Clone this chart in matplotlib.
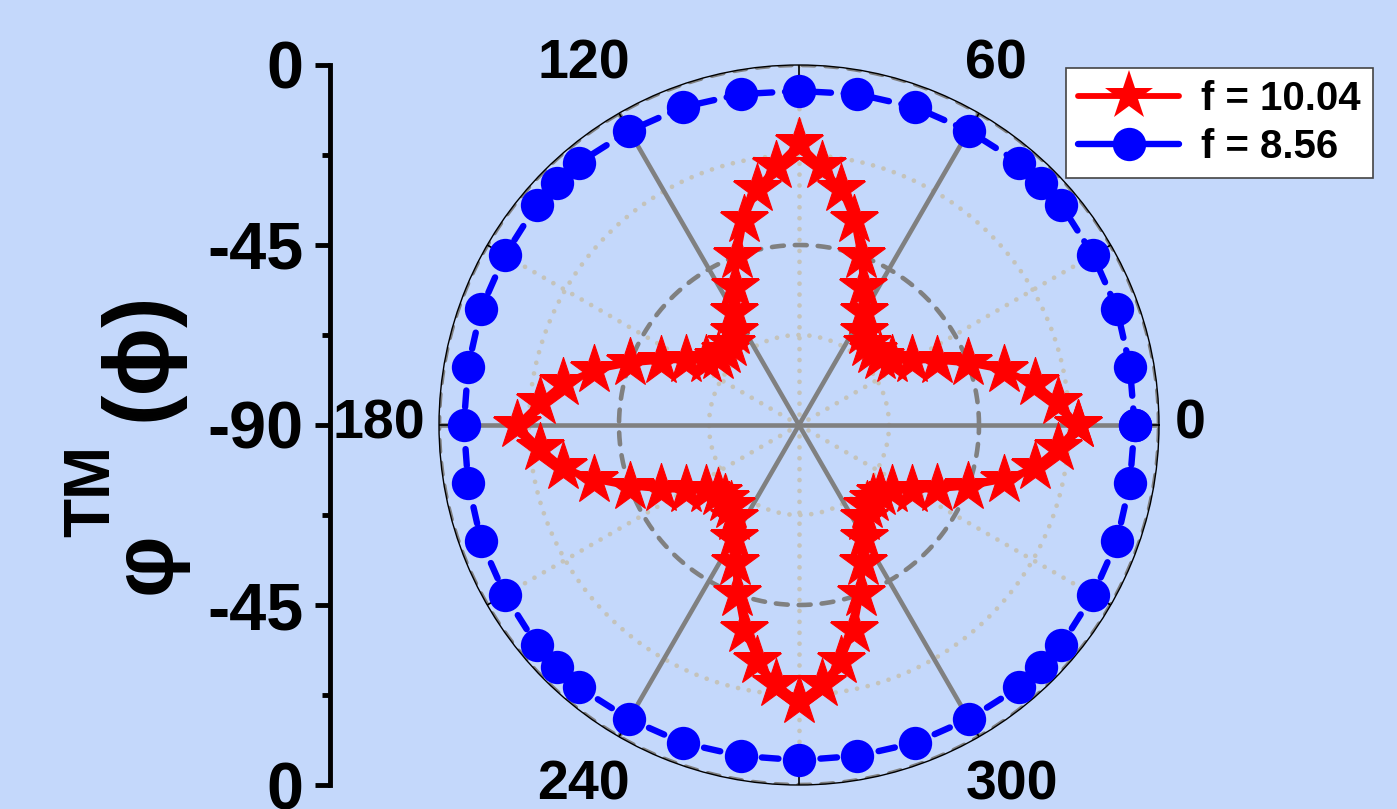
import numpy as np
import matplotlib
matplotlib.use("Agg")
import matplotlib.pyplot as plt
from matplotlib.lines import Line2D

plt.rcParams['font.family'] = ['Liberation Sans', 'DejaVu Sans']
plt.rcParams['font.weight'] = 'bold'

# Angle (deg) and phase values for the two frequencies
theta_red = np.arange(0, 361, 5)
phase_red = [-20.2, -25, -30, -37, -45, -52, -57.5, -61.5, -63.5, -64,
             -63.5, -61.5, -57.5, -52, -45, -37, -30, -25,
             -19.5, -25, -30, -37, -45, -52, -57.5, -61.5, -63.5, -64,
             -63.5, -61.5, -57.5, -52, -45, -37, -30, -25,
             -19.5, -25, -30, -37, -45, -52, -57.5, -61.5, -63.5, -64,
             -63.5, -61.5, -57.5, -52, -45, -37, -30, -25,
             -21, -25, -30, -37, -45, -52, -57.5, -61.5, -63.5, -64,
             -63.5, -61.5, -57.5, -52, -45, -37, -30, -25,
             -20.2]

theta_blue = [0, 10, 20, 30, 40, 45, 50, 60, 70, 80,
              90, 100, 110, 120, 130, 135, 140, 150, 160, 170,
              180, 190, 200, 210, 220, 225, 230, 240, 250, 260,
              270, 280, 290, 300, 310, 315, 320, 330, 340, 350, 360]
phase_blue = [-6.1, -6.0, -5.4, -5.1, -4.4, -4.3, -4.4, -5.1, -5.4, -6.0,
              -6.5, -6.0, -5.4, -5.1, -4.4, -4.3, -4.4, -5.1, -5.4, -6.0,
              -6.2, -6.0, -5.4, -5.1, -4.4, -4.3, -4.4, -5.1, -5.4, -6.0,
              -6.2, -6.0, -5.4, -5.1, -4.4, -4.3, -4.4, -5.1, -5.4, -6.0,
              -6.1]

labels = ['f = 10.04', 'f = 8.56']
angle_ticks = [0, 60, 120, 180, 240, 300]
radial_ticks = [90, 45, 0, -45, -90]
radial_labels = ['0', '-45', '-90', '-45', '0']

bg = '#c4d8fb'
W, H = 1397, 809
fig = plt.figure(figsize=(W / 100, H / 100), dpi=100, facecolor=bg)

# polar panel: centre (799, 425) px, radius 360 px
cx, cy, R = 799, 425, 360
ax = fig.add_axes([(cx - R) / W, (H - cy - R) / H, 2 * R / W, 2 * R / H],
                  projection='polar')
ax.set_facecolor('none')
ax.set_ylim(-90, 0)
ax.set_xticks([])
ax.set_yticks([])
ax.grid(False)
ax.spines['polar'].set_color('black')
ax.spines['polar'].set_linewidth(1.0)

circ = np.linspace(0, 2 * np.pi, 721)
grey = '#808080'
dotc = '#c4c3bb'

# dotted radial lines and circles
for a in [30, 90, 150, 210, 270, 330]:
    ax.plot([np.radians(a)] * 2, [-90, 0], color=dotc, lw=3.4,
            linestyle=(0, (0.01, 2.3)), dash_capstyle='round', zorder=1)
for r in [-67.5, -22.5]:
    ax.plot(circ, np.full_like(circ, r), color=dotc, lw=3.4,
            linestyle=(0, (0.01, 2.3)), dash_capstyle='round', zorder=1)

# solid spokes every 60 degrees
for a in angle_ticks:
    ax.plot([np.radians(a)] * 2, [-90, 0], color=grey, lw=3.3, zorder=2)

# dashed circles at -45 and at the rim
for r in [-45, 0]:
    ax.plot(circ, np.full_like(circ, r), color=grey, lw=3.3,
            linestyle=(0, (2.6, 2.4)), dash_capstyle='round', zorder=2)

# small inward ticks on the rim
for a in range(0, 360, 30):
    ax.plot([np.radians(a)] * 2, [-2.8, 0], color='black', lw=1.2, zorder=3)

ax.plot(np.radians(theta_blue), phase_blue, color='blue', lw=4.6,
        linestyle=(0, (2.6, 2.0)), dash_capstyle='round',
        marker='o', markersize=24, markeredgewidth=0, zorder=4)
ax.plot(np.radians(theta_red), phase_red, color='red', lw=4.2,
        solid_capstyle='round', marker='*', markersize=37,
        markeredgewidth=0.8, markeredgecolor='red', zorder=5)

# angle labels
label_pos = [(1.022, 0.5, 'left'), (0.731, 1.0, 'left'), (0.265, 1.0, 'right'),
             (-0.019, 0.5, 'right'), (0.265, 0.0, 'right'), (0.731, 0.0, 'left')]
for a, (x, y, ha) in zip(angle_ticks, label_pos):
    ax.text(x, y, str(a), transform=ax.transAxes, ha=ha, va='center',
            fontsize=40, fontweight='bold', clip_on=False)

# left radial scale
axl = fig.add_axes([330 / W, (H - cy - R) / H, 0.0001, 2 * R / H])
axl.set_facecolor('none')
axl.set_ylim(-90, 90)
for s in ['top', 'right', 'bottom']:
    axl.spines[s].set_visible(False)
axl.spines['left'].set_linewidth(3.5)
axl.set_xticks([])
axl.set_yticks(radial_ticks)
axl.set_yticklabels(radial_labels)
axl.set_yticks([67.5, 22.5, -22.5, -67.5], minor=True)
axl.tick_params(axis='y', which='major', length=11, width=3.5,
                labelsize=48, pad=8)
axl.tick_params(axis='y', which='minor', length=6, width=3.5)

# axis title built from pieces
fig.text(148 / W, 1 - 563 / H, '\u03c6', rotation=90, ha='center',
         va='center', fontsize=62, fontweight='bold')
fig.text(92 / W, 1 - 491 / H, 'TM', rotation=90, ha='center',
         va='center', fontsize=46, fontweight='bold')
fig.text(141 / W, 1 - 356 / H, '(\u03d5)', rotation=90, ha='center',
         va='center', fontsize=66, fontweight='bold')

# legend proxies drawn with solid lines
red_proxy = Line2D([0], [0], color='red', lw=4.2, solid_capstyle='round',
                   marker='*', markersize=37, markeredgewidth=0)
blue_proxy = Line2D([0], [0], color='blue', lw=4.6, solid_capstyle='round',
                    marker='o', markersize=24, markeredgewidth=0)
leg = fig.legend([red_proxy, blue_proxy], labels, loc='upper right',
                 bbox_to_anchor=(1373 / W, 1 - 68 / H), borderaxespad=0,
                 fontsize=29, handlelength=2.5, handletextpad=0.55,
                 borderpad=0.3, labelspacing=0.25, fancybox=False,
                 framealpha=1, edgecolor='#444444')
leg.get_frame().set_linewidth(1.2)
for t in leg.get_texts():
    t.set_fontweight('bold')

fig.savefig('out.png', dpi=100, facecolor=bg)
